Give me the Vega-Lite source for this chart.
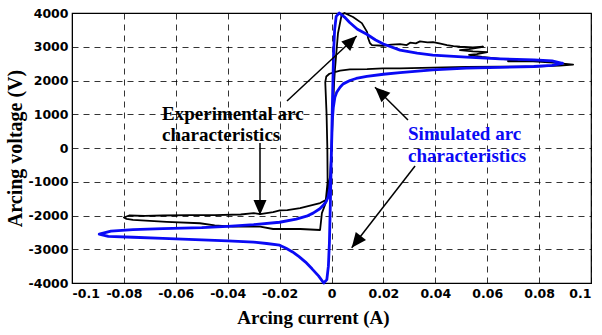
{
  "$schema": "https://vega.github.io/schema/vega-lite/v6.json",
  "width": 519,
  "height": 270,
  "autosize": "none",
  "padding": {"left": 72, "top": 13, "right": 11, "bottom": 52},
  "background": "white",
  "config": {
    "view": {"stroke": "black", "strokeWidth": 1.2},
    "axis": {
      "gridColor": "black",
      "gridOpacity": 1,
      "gridDash": [6, 5],
      "gridWidth": 0.8,
      "domainColor": "black",
      "tickColor": "black",
      "tickSize": 0,
      "tickCount": 30,
      "labelOverlap": false,
      "labelFont": "DejaVu Sans",
      "labelFontSize": 12.5,
      "labelFontWeight": "bold",
      "labelColor": "black",
      "titleFont": "Liberation Serif",
      "titleFontWeight": "bold",
      "titleColor": "black"
    }
  },
  "datasets": {
    "curves": [
      {"s": "exp", "i": 1, "x": 0.0039, "y": 3940},
      {"s": "exp", "i": 2, "x": 0.0050, "y": 4000},
      {"s": "exp", "i": 3, "x": 0.0083, "y": 3880},
      {"s": "exp", "i": 4, "x": 0.0117, "y": 3700},
      {"s": "exp", "i": 5, "x": 0.0137, "y": 3440},
      {"s": "exp", "i": 6, "x": 0.0141, "y": 3260},
      {"s": "exp", "i": 7, "x": 0.0148, "y": 3110},
      {"s": "exp", "i": 8, "x": 0.0156, "y": 3050},
      {"s": "exp", "i": 9, "x": 0.0198, "y": 3030},
      {"s": "exp", "i": 10, "x": 0.0230, "y": 3060},
      {"s": "exp", "i": 11, "x": 0.0264, "y": 3080},
      {"s": "exp", "i": 12, "x": 0.0290, "y": 3050},
      {"s": "exp", "i": 13, "x": 0.0303, "y": 3120},
      {"s": "exp", "i": 14, "x": 0.0325, "y": 3100},
      {"s": "exp", "i": 15, "x": 0.0341, "y": 3160},
      {"s": "exp", "i": 16, "x": 0.0370, "y": 3130},
      {"s": "exp", "i": 17, "x": 0.0391, "y": 3140},
      {"s": "exp", "i": 18, "x": 0.0420, "y": 3090},
      {"s": "exp", "i": 19, "x": 0.0445, "y": 3050},
      {"s": "exp", "i": 20, "x": 0.0470, "y": 3020},
      {"s": "exp", "i": 21, "x": 0.0495, "y": 3000},
      {"s": "exp", "i": 22, "x": 0.0545, "y": 2980},
      {"s": "exp", "i": 23, "x": 0.0584, "y": 3000},
      {"s": "exp", "i": 24, "x": 0.0530, "y": 2930},
      {"s": "exp", "i": 25, "x": 0.0495, "y": 2900},
      {"s": "exp", "i": 26, "x": 0.0545, "y": 2860},
      {"s": "exp", "i": 27, "x": 0.0600, "y": 2840},
      {"s": "exp", "i": 28, "x": 0.0560, "y": 2780},
      {"s": "exp", "i": 29, "x": 0.0530, "y": 2760},
      {"s": "exp", "i": 30, "x": 0.0580, "y": 2700},
      {"s": "exp", "i": 31, "x": 0.0650, "y": 2640},
      {"s": "exp", "i": 32, "x": 0.0714, "y": 2600},
      {"s": "exp", "i": 33, "x": 0.0680, "y": 2570},
      {"s": "exp", "i": 34, "x": 0.0777, "y": 2570},
      {"s": "exp", "i": 35, "x": 0.0854, "y": 2530},
      {"s": "exp", "i": 36, "x": 0.0931, "y": 2470},
      {"s": "exp", "i": 37, "x": 0.0880, "y": 2440},
      {"s": "exp", "i": 38, "x": 0.0777, "y": 2410},
      {"s": "exp", "i": 39, "x": 0.0650, "y": 2410},
      {"s": "exp", "i": 40, "x": 0.0520, "y": 2400},
      {"s": "exp", "i": 41, "x": 0.0391, "y": 2380},
      {"s": "exp", "i": 42, "x": 0.0264, "y": 2360},
      {"s": "exp", "i": 43, "x": 0.0198, "y": 2360},
      {"s": "exp", "i": 44, "x": 0.0137, "y": 2340},
      {"s": "exp", "i": 45, "x": 0.0071, "y": 2330},
      {"s": "exp", "i": 46, "x": 0.0033, "y": 2290},
      {"s": "exp", "i": 47, "x": 0.0013, "y": 2250},
      {"s": "exp", "i": 48, "x": -0.0008, "y": 2200},
      {"s": "exp", "i": 49, "x": -0.0020, "y": 2120},
      {"s": "exp", "i": 50, "x": -0.0024, "y": 1950},
      {"s": "exp", "i": 51, "x": -0.0019, "y": 1000},
      {"s": "exp", "i": 52, "x": -0.0016, "y": 0},
      {"s": "exp", "i": 53, "x": -0.0015, "y": -1000},
      {"s": "exp", "i": 54, "x": -0.0022, "y": -1540},
      {"s": "exp", "i": 55, "x": -0.0044, "y": -1630},
      {"s": "exp", "i": 56, "x": -0.0121, "y": -1780},
      {"s": "exp", "i": 57, "x": -0.0170, "y": -1840},
      {"s": "exp", "i": 58, "x": -0.0199, "y": -1850},
      {"s": "exp", "i": 59, "x": -0.0225, "y": -1900},
      {"s": "exp", "i": 60, "x": -0.0275, "y": -1960},
      {"s": "exp", "i": 61, "x": -0.0300, "y": -1930},
      {"s": "exp", "i": 62, "x": -0.0350, "y": -1970},
      {"s": "exp", "i": 63, "x": -0.0450, "y": -1990},
      {"s": "exp", "i": 64, "x": -0.0550, "y": -1990},
      {"s": "exp", "i": 65, "x": -0.0650, "y": -2000},
      {"s": "exp", "i": 66, "x": -0.0720, "y": -2010},
      {"s": "exp", "i": 67, "x": -0.0780, "y": -2000},
      {"s": "exp", "i": 68, "x": -0.0800, "y": -2060},
      {"s": "exp", "i": 69, "x": -0.0790, "y": -2100},
      {"s": "exp", "i": 70, "x": -0.0765, "y": -2130},
      {"s": "exp", "i": 71, "x": -0.0635, "y": -2190},
      {"s": "exp", "i": 72, "x": -0.0507, "y": -2230},
      {"s": "exp", "i": 73, "x": -0.0450, "y": -2290},
      {"s": "exp", "i": 74, "x": -0.0380, "y": -2330},
      {"s": "exp", "i": 75, "x": -0.0275, "y": -2330},
      {"s": "exp", "i": 76, "x": -0.0225, "y": -2400},
      {"s": "exp", "i": 77, "x": -0.0120, "y": -2400},
      {"s": "exp", "i": 78, "x": -0.0044, "y": -2430},
      {"s": "exp", "i": 79, "x": -0.0037, "y": -1930},
      {"s": "exp", "i": 80, "x": -0.0018, "y": -1540},
      {"s": "exp", "i": 81, "x": -0.0005, "y": -800},
      {"s": "exp", "i": 82, "x": 0.0000, "y": 0},
      {"s": "exp", "i": 83, "x": 0.0005, "y": 1000},
      {"s": "exp", "i": 84, "x": 0.0010, "y": 1930},
      {"s": "exp", "i": 85, "x": 0.0013, "y": 2300},
      {"s": "exp", "i": 86, "x": 0.0025, "y": 3400},
      {"s": "exp", "i": 87, "x": 0.0039, "y": 3940},
      {"s": "sim", "i": 1, "x": 0.0890, "y": 2510},
      {"s": "sim", "i": 2, "x": 0.0850, "y": 2450},
      {"s": "sim", "i": 3, "x": 0.0780, "y": 2415},
      {"s": "sim", "i": 4, "x": 0.0650, "y": 2390},
      {"s": "sim", "i": 5, "x": 0.0520, "y": 2365},
      {"s": "sim", "i": 6, "x": 0.0390, "y": 2315},
      {"s": "sim", "i": 7, "x": 0.0264, "y": 2235},
      {"s": "sim", "i": 8, "x": 0.0200, "y": 2185},
      {"s": "sim", "i": 9, "x": 0.0136, "y": 2120},
      {"s": "sim", "i": 10, "x": 0.0095, "y": 2060},
      {"s": "sim", "i": 11, "x": 0.0071, "y": 2000},
      {"s": "sim", "i": 12, "x": 0.0045, "y": 1900},
      {"s": "sim", "i": 13, "x": 0.0033, "y": 1800},
      {"s": "sim", "i": 14, "x": 0.0020, "y": 1650},
      {"s": "sim", "i": 15, "x": 0.0013, "y": 1500},
      {"s": "sim", "i": 16, "x": 0.0007, "y": 1200},
      {"s": "sim", "i": 17, "x": 0.0003, "y": 800},
      {"s": "sim", "i": 18, "x": 0.0000, "y": 0},
      {"s": "sim", "i": 19, "x": -0.0003, "y": -800},
      {"s": "sim", "i": 20, "x": -0.0007, "y": -1200},
      {"s": "sim", "i": 21, "x": -0.0013, "y": -1450},
      {"s": "sim", "i": 22, "x": -0.0020, "y": -1580},
      {"s": "sim", "i": 23, "x": -0.0030, "y": -1680},
      {"s": "sim", "i": 24, "x": -0.0045, "y": -1800},
      {"s": "sim", "i": 25, "x": -0.0071, "y": -1930},
      {"s": "sim", "i": 26, "x": -0.0096, "y": -2020},
      {"s": "sim", "i": 27, "x": -0.0136, "y": -2110},
      {"s": "sim", "i": 28, "x": -0.0200, "y": -2200},
      {"s": "sim", "i": 29, "x": -0.0300, "y": -2270},
      {"s": "sim", "i": 30, "x": -0.0400, "y": -2320},
      {"s": "sim", "i": 31, "x": -0.0500, "y": -2360},
      {"s": "sim", "i": 32, "x": -0.0650, "y": -2390},
      {"s": "sim", "i": 33, "x": -0.0765, "y": -2420},
      {"s": "sim", "i": 34, "x": -0.0850, "y": -2460},
      {"s": "sim", "i": 35, "x": -0.0895, "y": -2550},
      {"s": "sim", "i": 36, "x": -0.0860, "y": -2620},
      {"s": "sim", "i": 37, "x": -0.0765, "y": -2645},
      {"s": "sim", "i": 38, "x": -0.0650, "y": -2680},
      {"s": "sim", "i": 39, "x": -0.0500, "y": -2720},
      {"s": "sim", "i": 40, "x": -0.0400, "y": -2750},
      {"s": "sim", "i": 41, "x": -0.0300, "y": -2790},
      {"s": "sim", "i": 42, "x": -0.0250, "y": -2830},
      {"s": "sim", "i": 43, "x": -0.0200, "y": -2880},
      {"s": "sim", "i": 44, "x": -0.0175, "y": -2970},
      {"s": "sim", "i": 45, "x": -0.0150, "y": -3080},
      {"s": "sim", "i": 46, "x": -0.0125, "y": -3220},
      {"s": "sim", "i": 47, "x": -0.0100, "y": -3380},
      {"s": "sim", "i": 48, "x": -0.0075, "y": -3580},
      {"s": "sim", "i": 49, "x": -0.0050, "y": -3790},
      {"s": "sim", "i": 50, "x": -0.0030, "y": -4000},
      {"s": "sim", "i": 51, "x": -0.0018, "y": -3900},
      {"s": "sim", "i": 52, "x": -0.0012, "y": -3500},
      {"s": "sim", "i": 53, "x": -0.0008, "y": -2800},
      {"s": "sim", "i": 54, "x": -0.0004, "y": -1500},
      {"s": "sim", "i": 55, "x": 0.0000, "y": 0},
      {"s": "sim", "i": 56, "x": 0.0004, "y": 1500},
      {"s": "sim", "i": 57, "x": 0.0008, "y": 2800},
      {"s": "sim", "i": 58, "x": 0.0012, "y": 3500},
      {"s": "sim", "i": 59, "x": 0.0018, "y": 3900},
      {"s": "sim", "i": 60, "x": 0.0030, "y": 4000},
      {"s": "sim", "i": 61, "x": 0.0050, "y": 3880},
      {"s": "sim", "i": 62, "x": 0.0070, "y": 3720},
      {"s": "sim", "i": 63, "x": 0.0100, "y": 3520},
      {"s": "sim", "i": 64, "x": 0.0136, "y": 3370},
      {"s": "sim", "i": 65, "x": 0.0170, "y": 3200},
      {"s": "sim", "i": 66, "x": 0.0200, "y": 3080},
      {"s": "sim", "i": 67, "x": 0.0264, "y": 2900},
      {"s": "sim", "i": 68, "x": 0.0330, "y": 2810},
      {"s": "sim", "i": 69, "x": 0.0390, "y": 2750},
      {"s": "sim", "i": 70, "x": 0.0520, "y": 2690},
      {"s": "sim", "i": 71, "x": 0.0650, "y": 2640},
      {"s": "sim", "i": 72, "x": 0.0780, "y": 2610},
      {"s": "sim", "i": 73, "x": 0.0850, "y": 2580},
      {"s": "sim", "i": 74, "x": 0.0890, "y": 2510}
    ],
    "arrows": [
      {"x": -0.01715, "y": 1393, "x2": 0.00971, "y2": 3319, "angle": 47},
      {"x": -0.02755, "y": 150, "x2": -0.02755, "y2": -1985, "angle": 180},
      {"x": 0.02948, "y": 830, "x2": 0.01676, "y2": 1799, "angle": 313},
      {"x": 0.0322, "y": -533, "x2": 0.00778, "y2": -2954, "angle": 218}
    ],
    "labels": [
      {"t": "Experimental arc", "x": -0.0653, "y": 820, "s": "exp"},
      {"t": "characteristics", "x": -0.0653, "y": 215, "s": "exp"},
      {"t": "Simulated arc", "x": 0.0295, "y": 237, "s": "sim"},
      {"t": "characteristics", "x": 0.0295, "y": -415, "s": "sim"}
    ]
  },
  "layer": [
    {
      "data": {"name": "curves"},
      "mark": {"type": "line", "strokeJoin": "round", "strokeCap": "round"},
      "encoding": {
        "x": {
          "field": "x", "type": "quantitative",
          "scale": {"domain": [-0.1, 0.1], "nice": false, "zero": false},
          "axis": {
            "values": [-0.1, -0.08, -0.06, -0.04, -0.02, 0, 0.02, 0.04, 0.06, 0.08, 0.1],
            "labelExpr": "datum.value + ''",
            "labelPadding": 4,
            "title": "Arcing current (A)",
            "titleFontSize": 19,
            "titlePadding": 9,
            "titleX": 241,
            "titleAlign": "center"
          }
        },
        "y": {
          "field": "y", "type": "quantitative",
          "scale": {"domain": [-4000, 4000], "nice": false, "zero": false},
          "axis": {
            "values": [-4000, -3000, -2000, -1000, 0, 1000, 2000, 3000, 4000],
            "labelExpr": "datum.value + ''",
            "labelPadding": 4,
            "title": "Arcing voltage (V)",
            "titleFontSize": 20,
            "titlePadding": 3
          }
        },
        "order": {"field": "i", "type": "quantitative"},
        "color": {"field": "s", "type": "nominal", "scale": {"domain": ["exp", "sim"], "range": ["#000000", "#0a0af5"]}, "legend": null},
        "strokeWidth": {"field": "s", "type": "nominal", "scale": {"domain": ["exp", "sim"], "range": [1.8, 2.8]}, "legend": null}
      }
    },
    {
      "data": {"name": "arrows"},
      "mark": {"type": "rule", "color": "black", "strokeWidth": 1.5},
      "encoding": {
        "x": {"field": "x", "type": "quantitative"},
        "y": {"field": "y", "type": "quantitative"},
        "x2": {"field": "x2"},
        "y2": {"field": "y2"}
      }
    },
    {
      "data": {"name": "arrows"},
      "mark": {"type": "point", "shape": "M0,0L-1,2.3L1,2.3Z", "filled": true, "color": "black", "opacity": 1, "size": 169},
      "encoding": {
        "x": {"field": "x2", "type": "quantitative"},
        "y": {"field": "y2", "type": "quantitative"},
        "angle": {"field": "angle", "type": "quantitative", "scale": null}
      }
    },
    {
      "data": {"name": "labels"},
      "mark": {"type": "text", "font": "Liberation Serif", "fontWeight": "bold", "fontSize": 19, "align": "left", "baseline": "alphabetic"},
      "encoding": {
        "x": {"field": "x", "type": "quantitative"},
        "y": {"field": "y", "type": "quantitative"},
        "text": {"field": "t"},
        "color": {"field": "s", "type": "nominal", "legend": null}
      }
    }
  ]
}
